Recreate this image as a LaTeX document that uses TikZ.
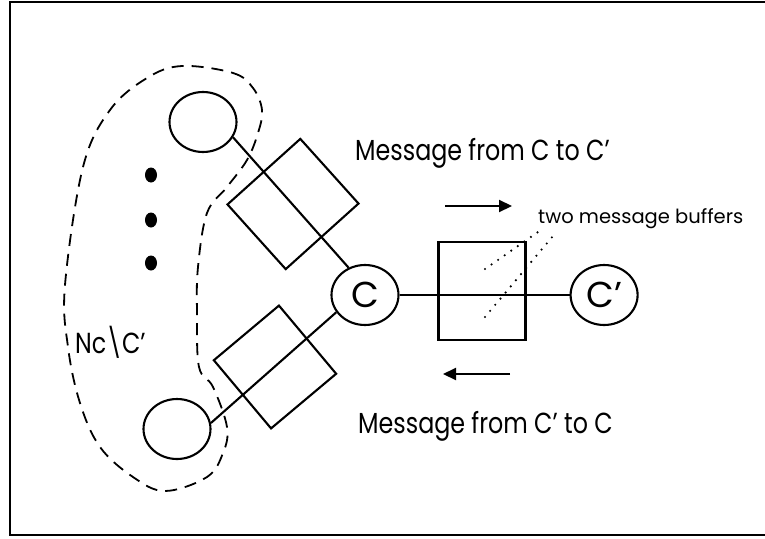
\documentclass[tikz,border=0pt]{standalone}
\usepackage{fontspec}
\setmainfont{Poppins}
\newfontfamily\narrowfont{Poppins}[FakeStretch=0.82, Ligatures=TeX]
\usetikzlibrary{positioning,arrows.meta,shapes.geometric}

\tikzset{
  cell/.style={draw, ellipse, line width=2.1pt, minimum width=67pt, minimum height=60pt, inner sep=0pt, font=\fontsize{36}{36}\selectfont},
  buffer/.style={draw, rectangle, line width=2.1pt, minimum width=87pt, minimum height=98pt, inner sep=0pt},
  link/.style={line width=2.1pt},
  msg/.style={line width=2.1pt, -{Triangle[length=13pt,width=12pt]}},
  hint/.style={line width=2.4pt, line cap=round, dash pattern=on 0pt off 8pt},
  label/.style={anchor=base west, inner sep=0pt, font=\narrowfont\fontsize{29}{29}\selectfont},
  dot/.style={fill, ellipse, minimum width=12pt, minimum height=15pt, inner sep=0pt},
}

\begin{document}
\begin{tikzpicture}[x=1pt, y=-1pt]
    \useasboundingbox (0,0) rectangle (765,538);
    \draw [line width=2.6pt] (766,2) -- (10,2) -- (10,535) -- (766,535);

    % cells
    \node [cell] (top) at (203,122) {};
    \node [cell] (bot) at (177,429) {};
    \node [cell] (c) at (365,295) {C};
    \node [cell, right=170pt of c] (cp) {C'};
    \foreach \y [count=\i] in {175,220,263}
        \node [dot] (dot\i) at (151,\y) {};

    % buffers
    \node [buffer, rotate=-48] (btop) at (293,204) {};
    \node [buffer, rotate=40, minimum width=85pt, minimum height=89pt] (bbot) at (275,367) {};
    \node [buffer] (bc) at (482,291) {};

    \draw [link] (top.-27) -- (c.121);
    \draw [link] (bot.10) -- (c.211);
    \draw [link] (c.east) -- (cp.west);

    % group of the other cells
    \draw [line width=1.8pt, dash pattern=on 12pt off 8pt]
        plot [smooth cycle, tension=0.6] coordinates {
        (182,66) (233,73) (253,88) (262,110) (258,133) (247,160) (227,187)
        (207,213) (198,267) (197,313) (199,367) (213,387) (227,427) (223,453)
        (207,477) (165,491) (133,477) (100,447) (80,403) (68,347) (65,285)
        (83,167) (110,110) (147,78)};
    \node [label] (nc) at (75,353) {Nc\textbackslash C'};

    % messages
    \coordinate (ra) at (445,206);
    \coordinate (rb) at (512,206);
    \coordinate (la) at (510,374);
    \coordinate (lb) at (443,374);
    \draw [msg] (ra) -- (rb);
    \draw [msg] (la) -- (lb);
    \node [label] (m1) at (355,160) {Message from C to C'};
    \node [label] (m2) at (358,433) {Message from C' to C};

    \node [label, font=\fontsize{19.5}{19.5}\selectfont] (buf) at (538,223) {two message buffers};
    \coordinate (h1) at (485,269);
    \coordinate (h1e) at (538,232);
    \coordinate (h2) at (485,317);
    \coordinate (h2e) at (553,236);
    \draw [hint] (h1) -- (h1e);
    \draw [hint] (h2) -- (h2e);
\end{tikzpicture}
\end{document}
